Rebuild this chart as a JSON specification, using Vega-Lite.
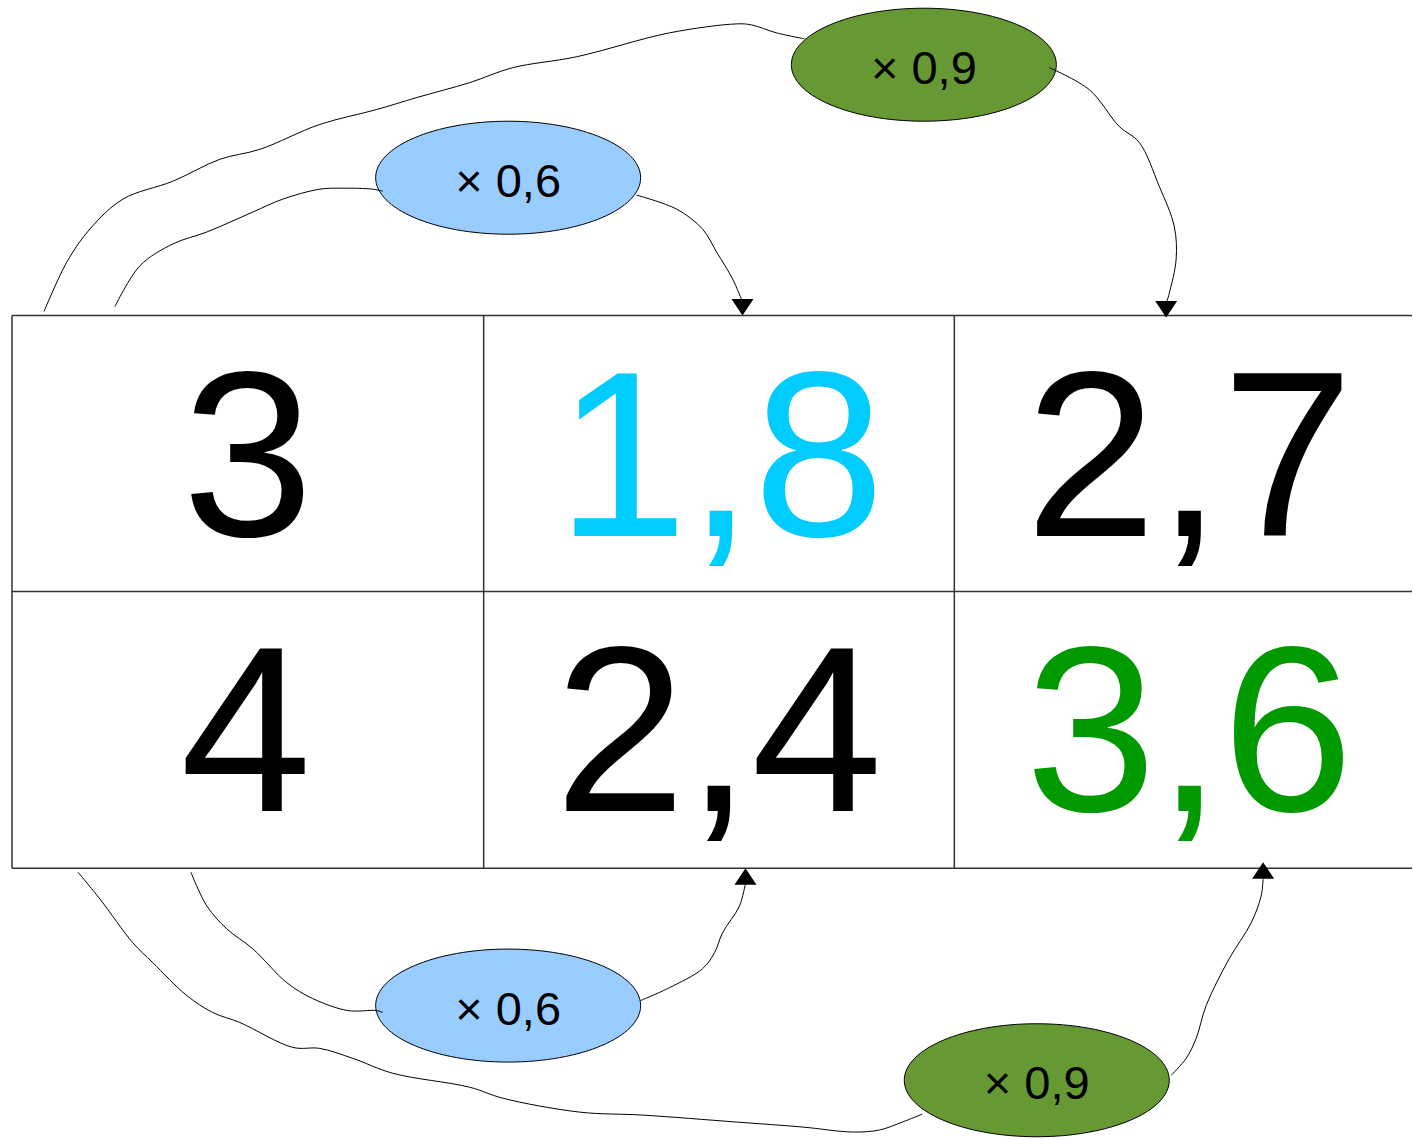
{
  "$schema": "https://vega.github.io/schema/vega-lite/v6.json",
  "width": 1413,
  "height": 1139,
  "autosize": {"type": "fit", "contains": "padding"},
  "padding": 0,
  "background": "white",
  "config": {"view": {"stroke": null}},
  "datasets": {
    "grid": [
      {"x": 12, "y": 317, "x2": 1413, "y2": 317},
      {"x": 12, "y": 594, "x2": 1413, "y2": 594},
      {"x": 12, "y": 872, "x2": 1413, "y2": 872},
      {"x": 12, "y": 317, "x2": 12, "y2": 872},
      {"x": 484, "y": 317, "x2": 484, "y2": 872},
      {"x": 955, "y": 317, "x2": 955, "y2": 872}
    ],
    "numbers": [
      {"x": 248, "y": 538, "t": "3", "kind": "plain"},
      {"x": 721, "y": 538, "t": "1,8", "kind": "x06"},
      {"x": 1190, "y": 538, "t": "2,7", "kind": "plain"},
      {"x": 246, "y": 815, "t": "4", "kind": "plain"},
      {"x": 719, "y": 815, "t": "2,4", "kind": "plain"},
      {"x": 1190, "y": 815, "t": "3,6", "kind": "x09"}
    ],
    "ellipses": [
      {"x": 924.5, "y": 65, "label": "× 0,9"},
      {"x": 508.5, "y": 178.5, "label": "× 0,6"},
      {"x": 508.5, "y": 1010, "label": "× 0,6"},
      {"x": 1037.5, "y": 1085, "label": "× 0,9"}
    ],
    "arrows": [
      {"x": 743, "y": 317, "dir": "down"},
      {"x": 1167, "y": 319, "dir": "down"},
      {"x": 746, "y": 872, "dir": "up"},
      {"x": 1264, "y": 866, "dir": "up"}
    ],
    "curves": [
      {"c": 1, "o": 1, "x": 44, "y": 313}, {"c": 1, "o": 2, "x": 67, "y": 263}, {"c": 1, "o": 3, "x": 90, "y": 230},
      {"c": 1, "o": 4, "x": 123, "y": 200}, {"c": 1, "o": 5, "x": 173, "y": 182}, {"c": 1, "o": 6, "x": 220, "y": 160},
      {"c": 1, "o": 7, "x": 260, "y": 150}, {"c": 1, "o": 8, "x": 320, "y": 125}, {"c": 1, "o": 9, "x": 377, "y": 110},
      {"c": 1, "o": 10, "x": 417, "y": 98}, {"c": 1, "o": 11, "x": 470, "y": 83}, {"c": 1, "o": 12, "x": 513, "y": 68},
      {"c": 1, "o": 13, "x": 577, "y": 57}, {"c": 1, "o": 14, "x": 670, "y": 33}, {"c": 1, "o": 15, "x": 737, "y": 24},
      {"c": 1, "o": 16, "x": 752, "y": 25}, {"c": 1, "o": 17, "x": 777, "y": 33}, {"c": 1, "o": 18, "x": 805, "y": 39},
      {"c": 2, "o": 1, "x": 1050, "y": 68}, {"c": 2, "o": 2, "x": 1090, "y": 90}, {"c": 2, "o": 3, "x": 1120, "y": 127},
      {"c": 2, "o": 4, "x": 1140, "y": 143}, {"c": 2, "o": 5, "x": 1160, "y": 187}, {"c": 2, "o": 6, "x": 1175, "y": 227},
      {"c": 2, "o": 7, "x": 1177, "y": 260}, {"c": 2, "o": 8, "x": 1170, "y": 295}, {"c": 2, "o": 9, "x": 1167, "y": 305},
      {"c": 3, "o": 1, "x": 115, "y": 308}, {"c": 3, "o": 2, "x": 140, "y": 267}, {"c": 3, "o": 3, "x": 173, "y": 245},
      {"c": 3, "o": 4, "x": 207, "y": 233}, {"c": 3, "o": 5, "x": 253, "y": 213}, {"c": 3, "o": 6, "x": 283, "y": 200},
      {"c": 3, "o": 7, "x": 320, "y": 190}, {"c": 3, "o": 8, "x": 343, "y": 189}, {"c": 3, "o": 9, "x": 373, "y": 190},
      {"c": 3, "o": 10, "x": 383, "y": 192},
      {"c": 4, "o": 1, "x": 637, "y": 196}, {"c": 4, "o": 2, "x": 677, "y": 210}, {"c": 4, "o": 3, "x": 703, "y": 230},
      {"c": 4, "o": 4, "x": 717, "y": 253}, {"c": 4, "o": 5, "x": 733, "y": 280}, {"c": 4, "o": 6, "x": 743, "y": 303},
      {"c": 5, "o": 1, "x": 78, "y": 876}, {"c": 5, "o": 2, "x": 100, "y": 903}, {"c": 5, "o": 3, "x": 133, "y": 947},
      {"c": 5, "o": 4, "x": 153, "y": 967}, {"c": 5, "o": 5, "x": 187, "y": 1000}, {"c": 5, "o": 6, "x": 213, "y": 1017},
      {"c": 5, "o": 7, "x": 240, "y": 1027}, {"c": 5, "o": 8, "x": 293, "y": 1052}, {"c": 5, "o": 9, "x": 320, "y": 1053},
      {"c": 5, "o": 10, "x": 353, "y": 1063}, {"c": 5, "o": 11, "x": 393, "y": 1078}, {"c": 5, "o": 12, "x": 470, "y": 1092},
      {"c": 5, "o": 13, "x": 503, "y": 1103}, {"c": 5, "o": 14, "x": 580, "y": 1117}, {"c": 5, "o": 15, "x": 643, "y": 1120},
      {"c": 5, "o": 16, "x": 737, "y": 1127}, {"c": 5, "o": 17, "x": 803, "y": 1132}, {"c": 5, "o": 18, "x": 853, "y": 1137},
      {"c": 5, "o": 19, "x": 880, "y": 1135}, {"c": 5, "o": 20, "x": 903, "y": 1127}, {"c": 5, "o": 21, "x": 923, "y": 1119},
      {"c": 6, "o": 1, "x": 191, "y": 876}, {"c": 6, "o": 2, "x": 207, "y": 910}, {"c": 6, "o": 3, "x": 227, "y": 933},
      {"c": 6, "o": 4, "x": 253, "y": 953}, {"c": 6, "o": 5, "x": 287, "y": 987}, {"c": 6, "o": 6, "x": 313, "y": 1003},
      {"c": 6, "o": 7, "x": 348, "y": 1015}, {"c": 6, "o": 8, "x": 377, "y": 1015}, {"c": 6, "o": 9, "x": 383, "y": 1017},
      {"c": 7, "o": 1, "x": 641, "y": 1005}, {"c": 7, "o": 2, "x": 670, "y": 992}, {"c": 7, "o": 3, "x": 703, "y": 973},
      {"c": 7, "o": 4, "x": 715, "y": 957}, {"c": 7, "o": 5, "x": 723, "y": 937}, {"c": 7, "o": 6, "x": 740, "y": 910},
      {"c": 7, "o": 7, "x": 746, "y": 887},
      {"c": 8, "o": 1, "x": 1172, "y": 1080}, {"c": 8, "o": 2, "x": 1187, "y": 1063}, {"c": 8, "o": 3, "x": 1197, "y": 1043},
      {"c": 8, "o": 4, "x": 1207, "y": 1010}, {"c": 8, "o": 5, "x": 1230, "y": 963}, {"c": 8, "o": 6, "x": 1252, "y": 927},
      {"c": 8, "o": 7, "x": 1262, "y": 900}, {"c": 8, "o": 8, "x": 1264, "y": 883}
    ]
  },
  "encoding": {
    "x": {"field": "x", "type": "quantitative", "scale": {"domain": [0, 1413], "nice": false, "zero": false}, "axis": null},
    "y": {"field": "y", "type": "quantitative", "scale": {"domain": [0, 1139], "nice": false, "zero": false, "reverse": true}, "axis": null}
  },
  "layer": [
    {
      "data": {"name": "grid"},
      "mark": {"type": "rule", "stroke": "#333333", "strokeWidth": 1.5},
      "encoding": {
        "x2": {"field": "x2"},
        "y2": {"field": "y2"}
      }
    },
    {
      "data": {"name": "numbers"},
      "mark": {"type": "text", "font": "Liberation Sans", "fontSize": 236, "align": "center", "baseline": "alphabetic"},
      "encoding": {
        "text": {"field": "t", "type": "nominal"},
        "color": {"field": "kind", "type": "nominal", "scale": {"domain": ["plain", "x06", "x09"], "range": ["#000000", "#00ccff", "#009900"]}, "legend": null}
      }
    },
    {
      "data": {"name": "ellipses"},
      "mark": {"type": "point", "filled": true, "shape": "M -1 0 A 1 0.4264 0 1 0 1 0 A 1 0.4264 0 1 0 -1 0 Z", "size": 70225, "stroke": "#000000", "strokeWidth": 1, "opacity": 1, "fillOpacity": 1},
      "encoding": {
        "fill": {"field": "label", "type": "nominal", "scale": {"domain": ["× 0,6", "× 0,9"], "range": ["#99ccff", "#669933"]}, "legend": null}
      }
    },
    {
      "data": {"name": "curves"},
      "mark": {"type": "line", "interpolate": "catmull-rom", "stroke": "#000000", "strokeWidth": 1},
      "encoding": {
        "detail": {"field": "c", "type": "nominal"},
        "order": {"field": "o", "type": "quantitative"}
      }
    },
    {
      "data": {"name": "arrows"},
      "transform": [{"filter": "datum.dir === 'down'"}],
      "mark": {"type": "point", "filled": true, "shape": "M -1 -1.5 L 1 -1.5 L 0 0 Z", "size": 484, "color": "#000000", "opacity": 1}
    },
    {
      "data": {"name": "arrows"},
      "transform": [{"filter": "datum.dir === 'up'"}],
      "mark": {"type": "point", "filled": true, "shape": "M -1 1.5 L 1 1.5 L 0 0 Z", "size": 484, "color": "#000000", "opacity": 1}
    },
    {
      "data": {"name": "ellipses"},
      "mark": {"type": "text", "font": "Liberation Sans", "fontSize": 47, "align": "center", "baseline": "alphabetic", "dy": 19, "color": "#000000"},
      "encoding": {
        "text": {"field": "label", "type": "nominal"}
      }
    }
  ],
  "resolve": {"scale": {"color": "independent", "fill": "independent"}}
}
